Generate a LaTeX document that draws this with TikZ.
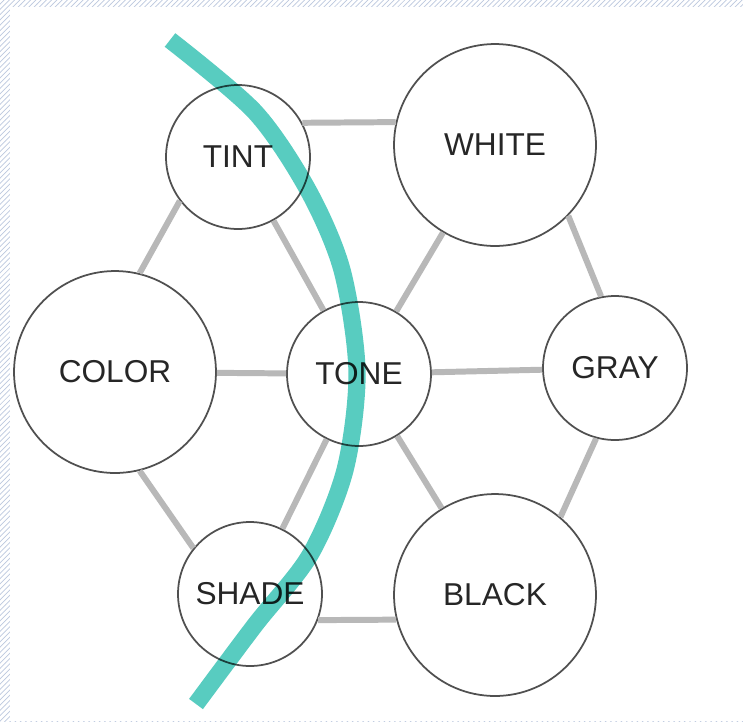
\documentclass[tikz,border=0pt]{standalone}
\usepackage{fontspec}
\setmainfont{Liberation Sans}
\usetikzlibrary{patterns}
\definecolor{hatch}{RGB}{188,200,222}
\definecolor{stripe}{RGB}{88,204,192}
\definecolor{rim}{RGB}{80,80,80}
\definecolor{bar}{RGB}{184,184,184}
\definecolor{ink}{RGB}{38,38,38}

\begin{document}
\begin{tikzpicture}[x=0.02cm,y=-0.02cm,
  dot/.style={circle,draw=rim,line width=1pt,fill=white,text=ink,
    font=\fontsize{18}{20}\selectfont,inner sep=0pt},
  small/.style={dot,minimum size=2.88cm},
  big/.style={dot,minimum size=4.04cm},
  bar/.style={draw=bar,line width=3.4pt}]

% paper
\useasboundingbox (0,0) rectangle (743,721);
\fill[pattern=north east lines,pattern color=hatch] (0,0) rectangle (743,721);
\fill[white] (10,7) rectangle (743,721);

% circles
\node[small] (tint)  at (238,157) {TINT};
\node[big]   (white) at (495,145) {WHITE};
\node[big]   (color) at (115,372) {COLOR};
\node[small] (tone)  at (359,374) {TONE};
\node[small] (gray)  at (615,368) {GRAY};
\node[small] (shade) at (250,594) {SHADE};
\node[big]   (black) at (495,595) {BLACK};

% spokes
\draw[bar] (tone) -- (tint)  (tone) -- (white)
           (tone) -- (color) (tone) -- (gray)
           (tone) -- (shade) (tone) -- (black);

% ring
\draw[bar] (tint.28) -- (white.167)
           (white.-44) -- (gray.101)
           (gray.-105) -- (black.50)
           (black.-166) -- (shade.-21)
           (shade.141) -- (color.-76)
           (color.76) -- (tint.217);

% sweep
\begin{scope}[blend mode=multiply]
\draw[stripe,line width=9.8pt] plot[smooth] coordinates
  {(170,40) (255,112) (308,190) (342,270) (357,372)
   (345,470) (310,555) (255,625) (196,704)};
\end{scope}

\end{tikzpicture}
\end{document}
